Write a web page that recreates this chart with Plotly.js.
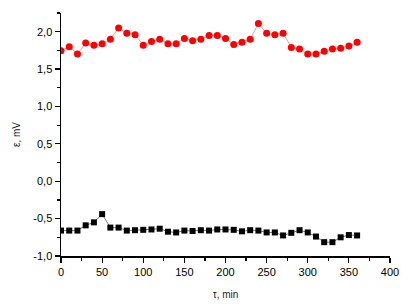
<!DOCTYPE html>
<html>
<head>
<meta charset="utf-8">
<script src="https://cdn.plot.ly/plotly-3.0.1.min.js"></script>
<style>html,body{margin:0;padding:0;background:#fff;}#chart{width:412px;height:304px;}</style>
</head>
<body>
<div id="chart"></div>
<script>
const timeMin = [0,10,20,30,40,50,60,70,80,90,100,110,120,130,140,150,160,170,180,190,200,210,220,230,240,250,260,270,280,290,300,310,320,330,340,350,360];
const redSeries = [1.745,1.80,1.70,1.85,1.82,1.84,1.90,2.05,1.98,1.96,1.82,1.87,1.90,1.84,1.84,1.91,1.88,1.90,1.95,1.95,1.91,1.83,1.86,1.90,2.11,1.98,1.96,1.98,1.79,1.77,1.70,1.70,1.74,1.77,1.78,1.81,1.86];
const blackSeries = [-0.66,-0.66,-0.66,-0.59,-0.55,-0.44,-0.62,-0.62,-0.66,-0.655,-0.65,-0.645,-0.635,-0.675,-0.685,-0.66,-0.665,-0.655,-0.66,-0.645,-0.645,-0.65,-0.67,-0.655,-0.66,-0.685,-0.685,-0.725,-0.69,-0.655,-0.685,-0.74,-0.815,-0.815,-0.75,-0.72,-0.725];
const xTickVals = [0,50,100,150,200,250,300,350,400];
const xTickText = ['0','50','100','150','200','250','300','350','400'];
const yTickVals = [-1,-0.5,0,0.5,1,1.5,2];
const yTickText = ['-1,0','-0,5','0,0','0,5','1,0','1,5','2,0'];

const traces = [
  {x: timeMin, y: redSeries, type:'scatter', mode:'lines+markers',
   line:{color:'#f08080', width:0.8},
   marker:{symbol:'circle', size:7, color:'#ff0000'}},
  {x: timeMin, y: blackSeries, type:'scatter', mode:'lines+markers',
   line:{color:'#555555', width:0.8},
   marker:{symbol:'square', size:6, color:'#000000'}}
];
const fontFam = 'Arial, "Liberation Sans", sans-serif';
const layout = {
  width:412, height:304,
  margin:{l:61, r:22, t:13, b:48},
  showlegend:false,
  paper_bgcolor:'#fff', plot_bgcolor:'#fff',
  font:{family:fontFam, size:11, color:'#000'},
  xaxis:{range:[0,400], showgrid:false, zeroline:false, showline:true, linecolor:'#000', linewidth:1.5,
    ticks:'outside', ticklen:5, tickwidth:1.2, tickcolor:'#000',
    tickvals:xTickVals, ticktext:xTickText,
    minor:{ticks:'outside', dtick:25, tick0:0, ticklen:3, tickwidth:1.2, tickcolor:'#000', showgrid:false},
    title:{text:'τ, min', font:{size:10, family:fontFam, color:'#222'}, standoff:14}},
  yaxis:{range:[-1,2.25], showgrid:false, zeroline:false, showline:true, linecolor:'#000', linewidth:1.5,
    ticks:'outside', ticklen:5, tickwidth:1.2, tickcolor:'#000',
    tickvals:yTickVals, ticktext:yTickText,
    minor:{ticks:'outside', dtick:0.25, tick0:0, ticklen:3, tickwidth:1.2, tickcolor:'#000', showgrid:false},
    title:{text:'ε, mV', font:{size:10, family:fontFam, color:'#222'}, standoff:11}}
};
Plotly.newPlot('chart', traces, layout, {displayModeBar:false, staticPlot:true});
</script>
</body>
</html>
